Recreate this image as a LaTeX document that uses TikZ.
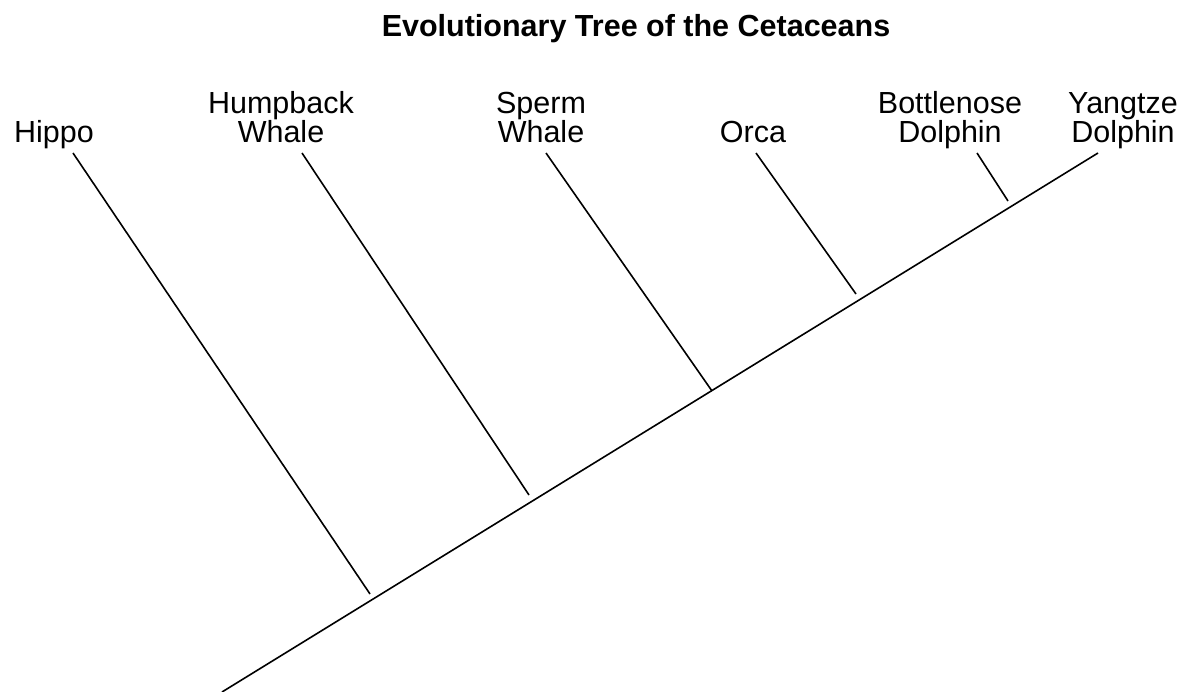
\documentclass[tikz,border=0pt]{standalone}
\usepackage{fontspec}
\setmainfont{Liberation Sans}
\usepackage{tikz}
\usetikzlibrary{positioning}

\tikzset{
  taxon/.style={align=center, anchor=base, inner sep=0pt, font=\fontsize{30.5}{29}\selectfont},
  branch/.style={line width=1.6pt}
}

\begin{document}
\begin{tikzpicture}[x=1pt, y=-1pt]
  \useasboundingbox (0,0) rectangle (1192,692);
  \node[anchor=base, inner sep=0pt, font=\bfseries\fontsize{30.5}{29}\selectfont] (title) at (636,37) {Evolutionary Tree of the Cetaceans};

  % taxa
  \node[taxon] (hippo) at (54,143) {Hippo};
  \node[taxon] (humpback) at (281,143) {Humpback\\Whale};
  \node[taxon] (sperm) at (541,143) {Sperm\\Whale};
  \node[taxon] (orca) at (753,143) {Orca};
  \node[taxon] (bottlenose) at (950,143) {Bottlenose\\Dolphin};
  \node[taxon] (yangtze) at (1123,143) {Yangtze\\Dolphin};

  % trunk
  \coordinate (root) at (222,692);
  \coordinate (yangtze top) at (1098,153);
  \draw[branch] (root) -- (yangtze top);

  % side branches
  \foreach \n/\tx/\bx/\by in {hippo/73/370/594, humpback/302/529/495, sperm/546/712/391, orca/756/856/294, bottlenose/977/1008/201} {
    \coordinate (\n top) at (\tx,153);
    \coordinate (\n fork) at (\bx,\by);
    \draw[branch] (\n top) -- (\n fork);
  }
\end{tikzpicture}
\end{document}
